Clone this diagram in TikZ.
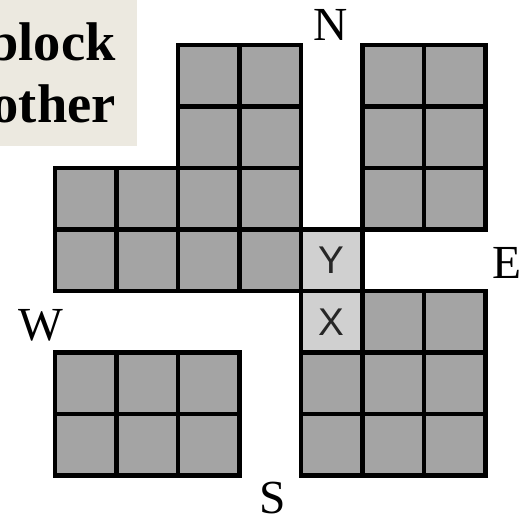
\documentclass[tikz,border=0pt]{standalone}
\usepackage{fontspec}
\newfontfamily\cellfont{Liberation Sans}
\newfontfamily\notefont{Liberation Serif}
\usepackage{tikz}
\usetikzlibrary{calc}

\definecolor{blockgray}{HTML}{A4A4A4}
\definecolor{pathgray}{HTML}{D0D0D0}
\definecolor{notebeige}{HTML}{ECE9E0}

\begin{document}
\begin{tikzpicture}[x=0.02cm,y=-0.02cm,
    block/.style={fill=blockgray,draw=black,line width=2.5pt},
    pathcell/.style={fill=pathgray,draw=black,line width=2.5pt},
    compass/.style={font=\notefont\fontsize{27}{30}\selectfont,anchor=base,inner sep=0pt},
    cellmark/.style={font=\cellfont\fontsize{22}{24}\selectfont,text=black!85}]
  \useasboundingbox (0,0) rectangle (530,518);
  % note box, cut off at the left edge
  \fill[notebeige] (0,0) rectangle (137,146);
  \begin{scope}
    \clip (0,0) rectangle (137,146);
    \node[anchor=base east,inner sep=0pt,font=\notefont\fontsize{31}{36}\selectfont\bfseries] (note1) at (116,60) {block};
    \node[anchor=base east,inner sep=0pt,font=\notefont\fontsize{31}{36}\selectfont\bfseries] (note2) at (116,122) {other};
  \end{scope}
  % grid of blocks, one unit per cell
  \begin{scope}[shift={(55,45)},x=1.23cm,y=-1.23cm]
    \foreach \c/\r in {2/0,3/0,2/1,3/1,0/2,1/2,2/2,3/2,0/3,1/3,2/3,3/3,
                       5/0,6/0,5/1,6/1,5/2,6/2,
                       5/4,6/4,4/5,5/5,6/5,4/6,5/6,6/6,
                       0/5,1/5,2/5,0/6,1/6,2/6}
      \draw[block] (\c,\r) rectangle ++(1,1);
    \draw[pathcell] (4,3) rectangle ++(1,1);
    \draw[pathcell] (4,4) rectangle ++(1,1);
    \node[cellmark] (y) at (4.5,3.5) {Y};
    \node[cellmark] (x) at (4.5,4.5) {X};
  \end{scope}
  % compass points
  \node[compass] (north) at (331,40) {N};
  \node[compass] (east) at (507,278) {E};
  \node[compass] (west) at (41,340) {W};
  \node[compass] (south) at (273,513) {S};
\end{tikzpicture}
\end{document}
